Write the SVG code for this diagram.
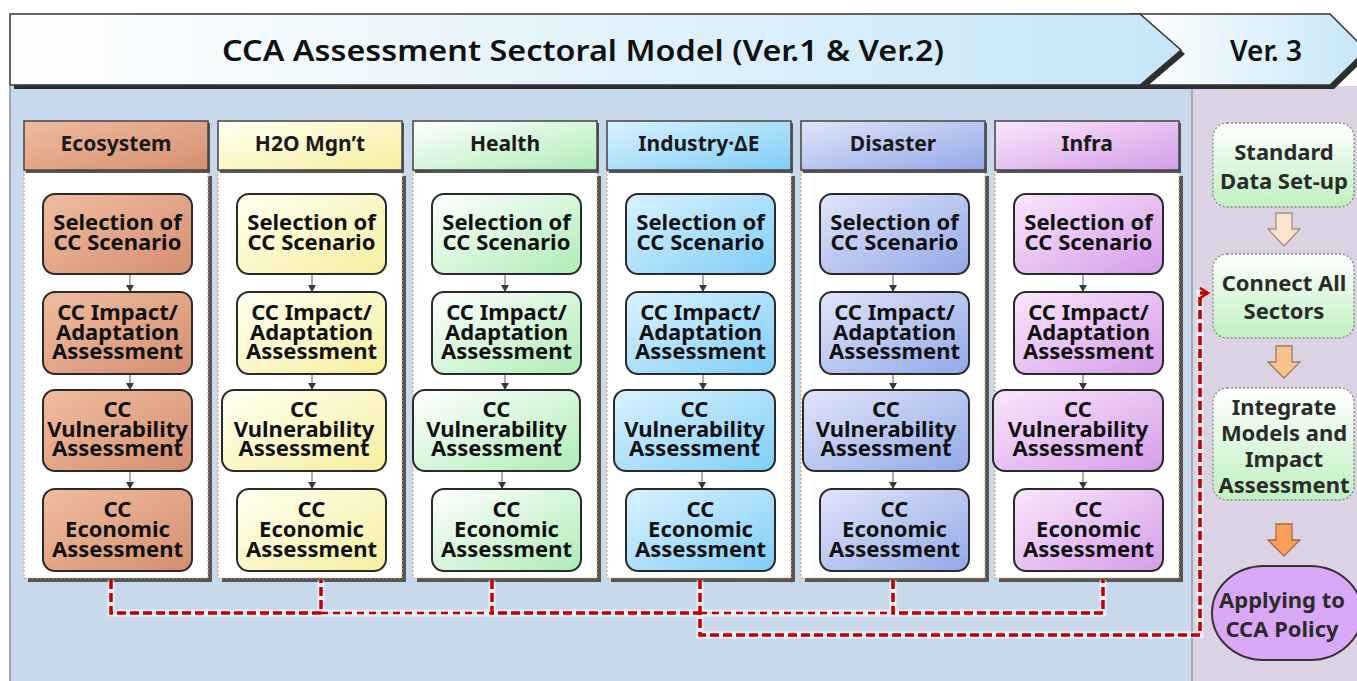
<svg xmlns="http://www.w3.org/2000/svg" width="1357" height="681" viewBox="0 0 1357 681">
<style>
.f{font-family:"Noto Sans","Open Sans","Liberation Sans",sans-serif}
.t{font-family:"Noto Sans","Open Sans","Liberation Sans",sans-serif;font-weight:700;font-size:22px;text-anchor:middle;fill:#111}
.h{font-family:"Noto Sans","Open Sans","Liberation Sans",sans-serif;font-weight:700;font-size:21px;text-anchor:middle;fill:#1a1a1a}
.r{font-family:"Noto Sans","Open Sans","Liberation Sans",sans-serif;font-weight:700;font-size:22px;text-anchor:middle;fill:#2b2b2b}
.bx{stroke:#2a2a2a;stroke-width:2}
.hd{stroke:#444;stroke-width:1.5}
.sh{fill:#555}
.body{fill:#fff;stroke:#f0a060;stroke-width:1.2;stroke-dasharray:2 2}
.sa{stroke:#777;stroke-width:1.2;fill:none;marker-end:url(#sm)}
.rd{fill:none;stroke:#c00000;stroke-width:3.5;stroke-dasharray:9 4}
.rdt{fill:none;stroke:#c00000;stroke-width:2.5;stroke-dasharray:7 5}
.halo{fill:none;stroke:#ffffff;stroke-opacity:0.55;stroke-width:7}
.rb{stroke:#888;stroke-width:1.3;stroke-dasharray:2 2;fill:url(#gRB)}
</style>
<defs>
<linearGradient id="gBan" x1="0" y1="0" x2="1" y2="0"><stop offset="0" stop-color="#ffffff"/><stop offset="0.2" stop-color="#f4fafd"/><stop offset="1" stop-color="#c6e6f8"/></linearGradient>
<linearGradient id="gBan2" x1="0" y1="0" x2="1" y2="0"><stop offset="0" stop-color="#ffffff"/><stop offset="1" stop-color="#c6e6f8"/></linearGradient>
<linearGradient id="gEco" x1="0" y1="0" x2="1" y2="1"><stop offset="0" stop-color="#f0bc9e"/><stop offset="1" stop-color="#d48f70"/></linearGradient>
<linearGradient id="gH2o" x1="0" y1="0" x2="1" y2="1"><stop offset="0" stop-color="#fffff2"/><stop offset="1" stop-color="#f6ee9e"/></linearGradient>
<linearGradient id="gHea" x1="0" y1="0" x2="1" y2="1"><stop offset="0" stop-color="#ffffff"/><stop offset="1" stop-color="#aeecb6"/></linearGradient>
<linearGradient id="gInd" x1="0" y1="0" x2="1" y2="1"><stop offset="0" stop-color="#daf2ff"/><stop offset="1" stop-color="#80cdf6"/></linearGradient>
<linearGradient id="gDis" x1="0" y1="0" x2="1" y2="1"><stop offset="0" stop-color="#e0e5f9"/><stop offset="1" stop-color="#93a8e7"/></linearGradient>
<linearGradient id="gInf" x1="0" y1="0" x2="1" y2="1"><stop offset="0" stop-color="#f9e6fb"/><stop offset="1" stop-color="#d59ce9"/></linearGradient>
<linearGradient id="gRB" x1="0" y1="0" x2="0" y2="1"><stop offset="0" stop-color="#ffffff"/><stop offset="1" stop-color="#bff0c0"/></linearGradient>
<marker id="sm" markerWidth="8" markerHeight="8" refX="4" refY="7" orient="0" markerUnits="userSpaceOnUse"><path d="M0,1 L8,1 L4,8 z" fill="#3a3a3a"/></marker>
<marker id="ra" markerWidth="12" markerHeight="12" refX="9" refY="6" orient="auto" markerUnits="userSpaceOnUse"><path d="M1,1 L9,6 L1,11" fill="none" stroke="#c00000" stroke-width="2.5"/></marker>
</defs>

<!-- backgrounds -->
<rect x="0" y="0" width="1357" height="681" fill="#ffffff"/>
<rect x="10" y="86" width="1182" height="595" fill="#c9d9ec"/>
<rect x="1192" y="86" width="165" height="595" fill="#dbd3e3"/>
<line x1="10" y1="86" x2="10" y2="681" stroke="#8a8f98" stroke-width="1.5"/>
<line x1="1192" y1="86" x2="1192" y2="681" stroke="#9a9aa4" stroke-width="1.5"/>

<!-- banner -->
<g id="banner">
<polygon points="1134,18 1334,18 1370,54 1334,89 1134,89" fill="#2e2e2e"/>
<polygon points="1130,14 1330,14 1366,50 1330,85 1130,85" fill="url(#gBan2)" stroke="#333" stroke-width="1.5"/>
<polygon points="14,18 1144,18 1185,54 1144,89 14,89" fill="#2e2e2e"/>
<polygon points="10,14 1140,14 1181,50 1140,85 10,85" fill="url(#gBan)" stroke="#333" stroke-width="1.5"/>
<text class="f" x="583" y="61" font-size="28" font-weight="600" text-anchor="middle" fill="#111" textLength="722" lengthAdjust="spacingAndGlyphs">CCA Assessment Sectoral Model (Ver.1 &amp; Ver.2)</text>
<text class="f" x="1266" y="61" font-size="28" font-weight="600" text-anchor="middle" fill="#111">Ver. 3</text>
</g>

<!-- Ecosystem column -->
<g id="col-ecosystem">
<rect class="sh" x="28" y="176" width="184" height="406"/>
<rect class="body" x="24" y="172" width="184" height="406"/>
<rect class="sh" x="26" y="123" width="184" height="50"/>
<rect class="hd" x="24" y="121" width="184" height="49" fill="url(#gEco)"/>
<text class="h" x="116" y="151">Ecosystem</text>
<line class="sa" x1="130" y1="275" x2="130" y2="291"/>
<line class="sa" x1="130" y1="375" x2="130" y2="389"/>
<line class="sa" x1="130" y1="472" x2="130" y2="488"/>
<g id="eco-1"><rect class="bx" x="43" y="194" width="149" height="80" rx="12" fill="url(#gEco)"/><text class="t"><tspan x="117.5" y="230">Selection of</tspan><tspan x="117.5" y="250">CC Scenario</tspan></text></g>
<g id="eco-2"><rect class="bx" x="43" y="292" width="149" height="82" rx="12" fill="url(#gEco)"/><text class="t"><tspan x="117.5" y="320">CC Impact/</tspan><tspan x="117.5" y="339.5">Adaptation</tspan><tspan x="117.5" y="359">Assessment</tspan></text></g>
<g id="eco-3"><rect class="bx" x="43" y="390" width="149" height="81" rx="12" fill="url(#gEco)"/><text class="t"><tspan x="117.5" y="417">CC</tspan><tspan x="117.5" y="437">Vulnerability</tspan><tspan x="117.5" y="456">Assessment</tspan></text></g>
<g id="eco-4"><rect class="bx" x="43" y="489" width="149" height="82" rx="12" fill="url(#gEco)"/><text class="t"><tspan x="117.5" y="517">CC</tspan><tspan x="117.5" y="537">Economic</tspan><tspan x="117.5" y="557">Assessment</tspan></text></g>
</g>

<!-- H2O column -->
<g id="col-h2o">
<rect class="sh" x="222" y="176" width="184" height="406"/>
<rect class="body" x="218" y="172" width="184" height="406"/>
<rect class="sh" x="220" y="123" width="184" height="50"/>
<rect class="hd" x="218" y="121" width="184" height="49" fill="url(#gH2o)"/>
<text class="h" x="310" y="151">H2O Mgn’t</text>
<line class="sa" x1="312" y1="275" x2="312" y2="291"/>
<line class="sa" x1="312" y1="375" x2="312" y2="389"/>
<line class="sa" x1="312" y1="472" x2="312" y2="488"/>
<g id="h2o-1"><rect class="bx" x="237" y="194" width="149" height="80" rx="12" fill="url(#gH2o)"/><text class="t"><tspan x="311.5" y="230">Selection of</tspan><tspan x="311.5" y="250">CC Scenario</tspan></text></g>
<g id="h2o-2"><rect class="bx" x="237" y="292" width="149" height="82" rx="12" fill="url(#gH2o)"/><text class="t"><tspan x="311.5" y="320">CC Impact/</tspan><tspan x="311.5" y="339.5">Adaptation</tspan><tspan x="311.5" y="359">Assessment</tspan></text></g>
<g id="h2o-3"><rect class="bx" x="222" y="390" width="164" height="81" rx="12" fill="url(#gH2o)"/><text class="t"><tspan x="304" y="417">CC</tspan><tspan x="304" y="437">Vulnerability</tspan><tspan x="304" y="456">Assessment</tspan></text></g>
<g id="h2o-4"><rect class="bx" x="237" y="489" width="149" height="82" rx="12" fill="url(#gH2o)"/><text class="t"><tspan x="311.5" y="517">CC</tspan><tspan x="311.5" y="537">Economic</tspan><tspan x="311.5" y="557">Assessment</tspan></text></g>
</g>

<!-- Health column -->
<g id="col-health">
<rect class="sh" x="417" y="176" width="184" height="406"/>
<rect class="body" x="413" y="172" width="184" height="406"/>
<rect class="sh" x="415" y="123" width="184" height="50"/>
<rect class="hd" x="413" y="121" width="184" height="49" fill="url(#gHea)"/>
<text class="h" x="505" y="151">Health</text>
<line class="sa" x1="505" y1="275" x2="505" y2="291"/>
<line class="sa" x1="505" y1="375" x2="505" y2="389"/>
<line class="sa" x1="502" y1="472" x2="502" y2="488"/>
<g id="hea-1"><rect class="bx" x="432" y="194" width="149" height="80" rx="12" fill="url(#gHea)"/><text class="t"><tspan x="506.5" y="230">Selection of</tspan><tspan x="506.5" y="250">CC Scenario</tspan></text></g>
<g id="hea-2"><rect class="bx" x="432" y="292" width="149" height="82" rx="12" fill="url(#gHea)"/><text class="t"><tspan x="506.5" y="320">CC Impact/</tspan><tspan x="506.5" y="339.5">Adaptation</tspan><tspan x="506.5" y="359">Assessment</tspan></text></g>
<g id="hea-3"><rect class="bx" x="413" y="390" width="167" height="81" rx="12" fill="url(#gHea)"/><text class="t"><tspan x="496.5" y="417">CC</tspan><tspan x="496.5" y="437">Vulnerability</tspan><tspan x="496.5" y="456">Assessment</tspan></text></g>
<g id="hea-4"><rect class="bx" x="432" y="489" width="149" height="82" rx="12" fill="url(#gHea)"/><text class="t"><tspan x="506.5" y="517">CC</tspan><tspan x="506.5" y="537">Economic</tspan><tspan x="506.5" y="557">Assessment</tspan></text></g>
</g>

<!-- Industry column -->
<g id="col-industry">
<rect class="sh" x="611" y="176" width="184" height="406"/>
<rect class="body" x="607" y="172" width="184" height="406"/>
<rect class="sh" x="609" y="123" width="184" height="50"/>
<rect class="hd" x="607" y="121" width="184" height="49" fill="url(#gInd)"/>
<text class="h" x="699" y="151">Industry·∆E</text>
<line class="sa" x1="703" y1="275" x2="703" y2="291"/>
<line class="sa" x1="703" y1="375" x2="703" y2="389"/>
<line class="sa" x1="702" y1="472" x2="702" y2="488"/>
<g id="ind-1"><rect class="bx" x="626" y="194" width="149" height="80" rx="12" fill="url(#gInd)"/><text class="t"><tspan x="700.5" y="230">Selection of</tspan><tspan x="700.5" y="250">CC Scenario</tspan></text></g>
<g id="ind-2"><rect class="bx" x="626" y="292" width="149" height="82" rx="12" fill="url(#gInd)"/><text class="t"><tspan x="700.5" y="320">CC Impact/</tspan><tspan x="700.5" y="339.5">Adaptation</tspan><tspan x="700.5" y="359">Assessment</tspan></text></g>
<g id="ind-3"><rect class="bx" x="614" y="390" width="161" height="81" rx="12" fill="url(#gInd)"/><text class="t"><tspan x="694.5" y="417">CC</tspan><tspan x="694.5" y="437">Vulnerability</tspan><tspan x="694.5" y="456">Assessment</tspan></text></g>
<g id="ind-4"><rect class="bx" x="626" y="489" width="149" height="82" rx="12" fill="url(#gInd)"/><text class="t"><tspan x="700.5" y="517">CC</tspan><tspan x="700.5" y="537">Economic</tspan><tspan x="700.5" y="557">Assessment</tspan></text></g>
</g>

<!-- Disaster column -->
<g id="col-disaster">
<rect class="sh" x="805" y="176" width="184" height="406"/>
<rect class="body" x="801" y="172" width="184" height="406"/>
<rect class="sh" x="803" y="123" width="184" height="50"/>
<rect class="hd" x="801" y="121" width="184" height="49" fill="url(#gDis)"/>
<text class="h" x="893" y="151">Disaster</text>
<line class="sa" x1="893" y1="275" x2="893" y2="291"/>
<line class="sa" x1="893" y1="375" x2="893" y2="389"/>
<line class="sa" x1="893" y1="472" x2="893" y2="488"/>
<g id="dis-1"><rect class="bx" x="820" y="194" width="149" height="80" rx="12" fill="url(#gDis)"/><text class="t"><tspan x="894.5" y="230">Selection of</tspan><tspan x="894.5" y="250">CC Scenario</tspan></text></g>
<g id="dis-2"><rect class="bx" x="820" y="292" width="149" height="82" rx="12" fill="url(#gDis)"/><text class="t"><tspan x="894.5" y="320">CC Impact/</tspan><tspan x="894.5" y="339.5">Adaptation</tspan><tspan x="894.5" y="359">Assessment</tspan></text></g>
<g id="dis-3"><rect class="bx" x="803" y="390" width="166" height="81" rx="12" fill="url(#gDis)"/><text class="t"><tspan x="886" y="417">CC</tspan><tspan x="886" y="437">Vulnerability</tspan><tspan x="886" y="456">Assessment</tspan></text></g>
<g id="dis-4"><rect class="bx" x="820" y="489" width="149" height="82" rx="12" fill="url(#gDis)"/><text class="t"><tspan x="894.5" y="517">CC</tspan><tspan x="894.5" y="537">Economic</tspan><tspan x="894.5" y="557">Assessment</tspan></text></g>
</g>

<!-- Infra column -->
<g id="col-infra">
<rect class="sh" x="999" y="176" width="184" height="406"/>
<rect class="body" x="995" y="172" width="184" height="406"/>
<rect class="sh" x="997" y="123" width="184" height="50"/>
<rect class="hd" x="995" y="121" width="184" height="49" fill="url(#gInf)"/>
<text class="h" x="1087" y="151">Infra</text>
<line class="sa" x1="1083" y1="275" x2="1083" y2="291"/>
<line class="sa" x1="1083" y1="375" x2="1083" y2="389"/>
<line class="sa" x1="1083" y1="472" x2="1083" y2="488"/>
<g id="inf-1"><rect class="bx" x="1014" y="194" width="149" height="80" rx="12" fill="url(#gInf)"/><text class="t"><tspan x="1088.5" y="230">Selection of</tspan><tspan x="1088.5" y="250">CC Scenario</tspan></text></g>
<g id="inf-2"><rect class="bx" x="1014" y="292" width="149" height="82" rx="12" fill="url(#gInf)"/><text class="t"><tspan x="1088.5" y="320">CC Impact/</tspan><tspan x="1088.5" y="339.5">Adaptation</tspan><tspan x="1088.5" y="359">Assessment</tspan></text></g>
<g id="inf-3"><rect class="bx" x="993" y="390" width="170" height="81" rx="12" fill="url(#gInf)"/><text class="t"><tspan x="1078" y="417">CC</tspan><tspan x="1078" y="437">Vulnerability</tspan><tspan x="1078" y="456">Assessment</tspan></text></g>
<g id="inf-4"><rect class="bx" x="1014" y="489" width="149" height="82" rx="12" fill="url(#gInf)"/><text class="t"><tspan x="1088.5" y="517">CC</tspan><tspan x="1088.5" y="537">Economic</tspan><tspan x="1088.5" y="557">Assessment</tspan></text></g>
</g>

<!-- Ver.3 process -->
<g id="standard-data">
<rect class="rb" x="1213" y="123" width="141" height="84" rx="14"/>
<text class="r"><tspan x="1284" y="160">Standard</tspan><tspan x="1284" y="189">Data Set-up</tspan></text>
</g>
<g id="connect-all">
<rect class="rb" x="1213" y="254" width="141" height="84" rx="14"/>
<text class="r"><tspan x="1284" y="291">Connect All</tspan><tspan x="1284" y="319">Sectors</tspan></text>
</g>
<g id="integrate">
<rect class="rb" x="1213" y="388" width="141" height="112" rx="14"/>
<text class="r"><tspan x="1284" y="415">Integrate</tspan><tspan x="1284" y="441">Models and</tspan><tspan x="1284" y="467">Impact</tspan><tspan x="1284" y="493">Assessment</tspan></text>
</g>
<g id="applying">
<rect x="1212" y="566" width="150" height="94" rx="52" ry="47" fill="#d9a9f7" stroke="#333" stroke-width="2"/>
<text class="r"><tspan x="1282" y="608">Applying to</tspan><tspan x="1282" y="637">CCA Policy</tspan></text>
</g>

<g id="connectors">
<polygon points="1276,213 1292,213 1292,229 1300,229 1284,246 1268,229 1276,229" fill="#fde3cc" stroke="#a09282" stroke-width="1.3"/>
<polygon points="1276,346 1292,346 1292,362 1300,362 1284,378 1268,362 1276,362" fill="#f9c28e" stroke="#9a7e62" stroke-width="1.3"/>
<polygon points="1276,524 1292,524 1292,540 1300,540 1284,556 1268,540 1276,540" fill="#f8a05a" stroke="#a86e42" stroke-width="1.3"/>
<path class="halo" d="M111,580 V613 H1103 V580 M321,580 V613 M492,580 V613 M893,580 V613 M700,580 V635 H1200 V293 H1206"/>
<path class="rd" d="M111,580 V613 H321 V580"/>
<path class="rdt" d="M321,613 H492"/>
<path class="rd" d="M492,580 V613 H700"/>
<path class="rdt" d="M700,613 H893"/>
<path class="rd" d="M893,580 V613 H1103 V580"/>
<path class="rd" d="M700,580 V635 H1200 V293 H1208" marker-end="url(#ra)"/>
</g>
</svg>
